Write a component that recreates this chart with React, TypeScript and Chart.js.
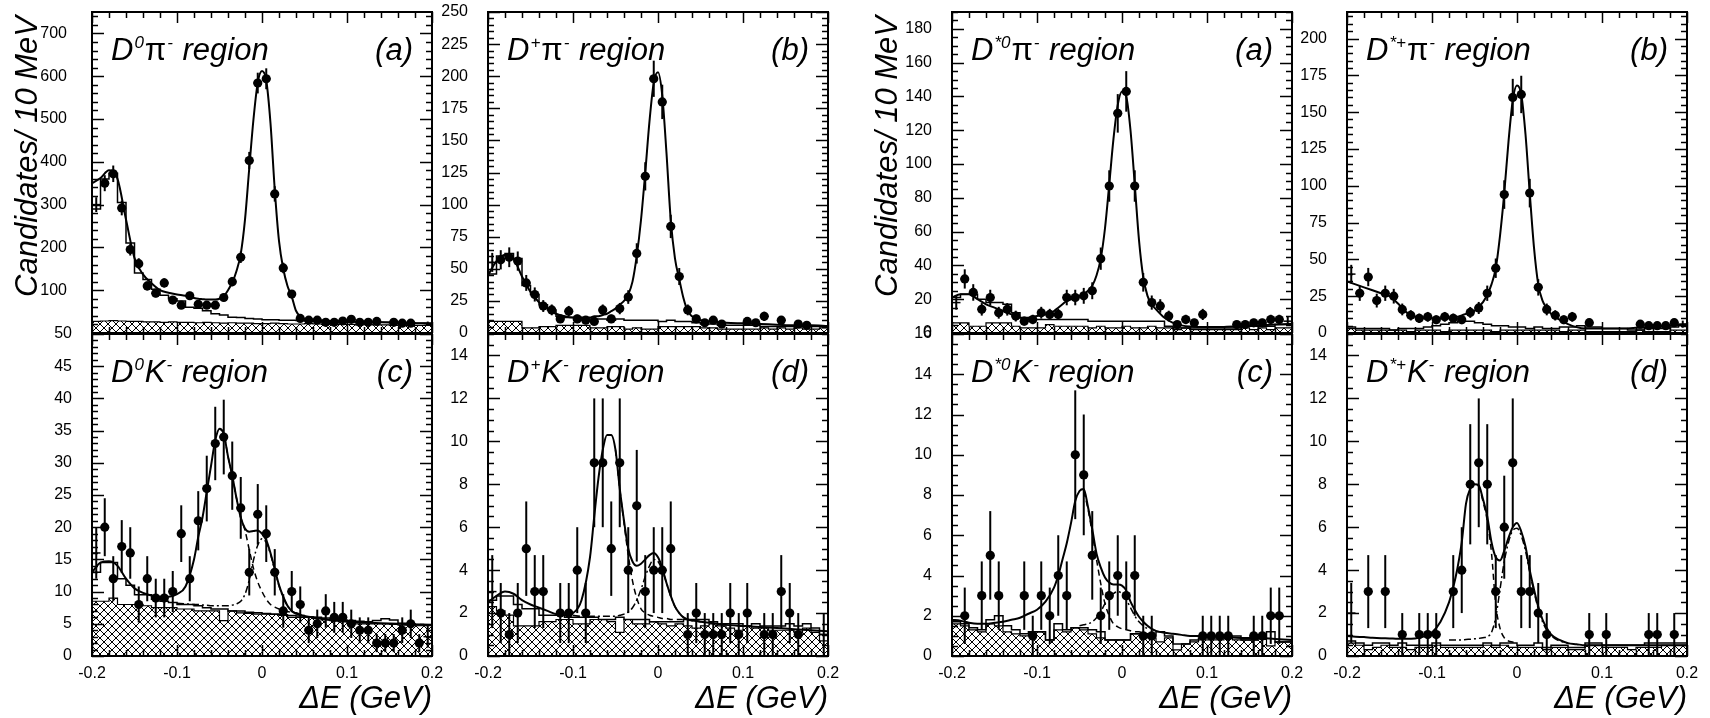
import React, { useEffect, useRef } from "react";
import { Chart, registerables } from "chart.js";

Chart.register(...registerables);

const FONT = '"Liberation Sans", Arial, Helvetica, sans-serif';

// ---------------- shared binning ----------------
const binCenters = [-0.195, -0.185, -0.175, -0.165, -0.155, -0.145, -0.135, -0.125, -0.115, -0.105, -0.095, -0.085, -0.075, -0.065, -0.055, -0.045, -0.035, -0.025, -0.015, -0.005, 0.005, 0.015, 0.025, 0.035, 0.045, 0.055, 0.065, 0.075, 0.085, 0.095, 0.105, 0.115, 0.125, 0.135, 0.145, 0.155, 0.165, 0.175, 0.185, 0.195];
const binEdges = [-0.2, -0.19, -0.18, -0.17, -0.16, -0.15, -0.14, -0.13, -0.12, -0.11, -0.1, -0.09, -0.08, -0.07, -0.06, -0.05, -0.04, -0.03, -0.02, -0.01, 0, 0.01, 0.02, 0.03, 0.04, 0.05, 0.06, 0.07, 0.08, 0.09, 0.1, 0.11, 0.12, 0.13, 0.14, 0.15, 0.16, 0.17, 0.18, 0.19, 0.2];
const fitX = [-0.2, -0.19, -0.18, -0.17, -0.16, -0.15, -0.14, -0.13, -0.12, -0.11, -0.1, -0.09, -0.08, -0.075, -0.07, -0.065, -0.06, -0.055, -0.05, -0.045, -0.04, -0.035, -0.03, -0.025, -0.02, -0.015, -0.01, -0.005, 0, 0.005, 0.01, 0.015, 0.02, 0.025, 0.03, 0.035, 0.04, 0.05, 0.06, 0.07, 0.08, 0.1, 0.12, 0.14, 0.16, 0.18, 0.2];
const xTickLabels = ["-0.2", "-0.1", "0", "0.1", "0.2"];
const yTitleText = "Candidates/ 10 MeV";
const xTitleText = "ΔE (GeV)";

// ---------------- (a) D0 pi- region ----------------
const d0piValues = [300, 350, 372, 292, 195, 162, 110, 93, 117, 77, 65, 87, 67, 65, 65, 83, 120, 177, 403, 584, 594, 325, 152, 91, 34, 30, 30, 25, 25, 28, 32, 25, 25, 27, null, 25, 23, 23, null, 22];
const d0piErrors = [17.3, 18.7, 19.3, 17.1, 14, 12.7, 10.5, 9.6, 10.8, 8.8, 8.1, 9.3, 8.2, 8.1, 8.1, 9.1, 11, 13.3, 20.1, 24.2, 24.4, 18, 12.3, 9.5, 5.8, 5.5, 5.5, 5, 5, 5.3, 5.7, 5, 5, 5.2, null, 5, 4.8, 4.8, null, 4.7];
const d0piHist = [290, 360, 373, 305, 210, 140, 125, 102, 88, 80, 75, 60, 58, 52, 45, 42, 37, 36, 34, 33, 31, 31, 30, 30, 29, 28, 28, 27, 27, 26, 26, 26, 25, 25, 25, 24, 24, 24, 23, 23];
const d0piHatch = [27, 28, 29, 28, 27, 27, 26, 26, 25, 26, 25, 25, 24, 25, 24, 23, 24, 23, 23, 22, 22, 23, 22, 21, 21, 22, 21, 20, 21, 20, 20, 19, 20, 19, 19, 18, 19, 18, 18, 18];
const d0piFit = [350, 362, 380, 360, 265, 175, 137, 116, 100, 94, 90, 87, 82, 80, 79, 78, 78, 78, 80, 86, 100, 118, 145, 185, 265, 385, 500, 585, 612, 590, 490, 335, 215, 150, 110, 85, 52, 33, 30, 29, 28, 27, 26, 25, 24, 23, 22];

// ---------------- (b) D+ pi- region ----------------
const dppiValues = [55, 57, 59, 56, 39, 30, 21, 18, 11, 17, 11, 10, 9, 18, 11, 19, 28, 62, 122, 198, 180, 83, 44, 18, 11, 8, 10, 7, null, null, 9, 8, 13, null, 10, null, 7, 6, null, null];
const dppiErrors = [7.4, 7.5, 7.7, 7.5, 6.2, 5.5, 4.6, 4.2, 3.3, 4.1, 3.3, 3.2, 3, 4.2, 3.3, 4.4, 5.3, 7.9, 11, 14.1, 13.4, 9.1, 6.6, 4.2, 3.3, 2.8, 3.2, 2.6, null, null, 3, 2.8, 3.6, null, 3.2, null, 2.6, 2.4, null, null];
const dppiHist = [46, 60, 62, 58, 37, 30, 22, 18, 13, 12, 12, 11, 11, 11, 10, 11, 10, 10, 10, 10, 9, 10, 9, 9, 8, 7, 7, 6, 6, 6, 6, 6, 5, 5, 5, 5, 5, 5, 5, 5];
const dppiHatch = [9, 9, 9, 9, 4, 4, 5, 5, 6, 6, 6, 6, 4, 4, 5, 5, 3, 4, 3, 3, 5, 5, 5, 5, 5, 4, 4, 3, 3, 3, 3, 3, 4, 3, 4, 3, 4, 3, 3, 4];
const dppiFit = [45, 56, 61, 58, 44, 32, 24, 19, 15, 13, 12, 12, 12, 13, 13, 14, 15, 17, 19, 22, 25, 30, 40, 60, 88, 125, 165, 195, 203, 185, 140, 88, 58, 42, 27, 17, 13, 10, 9, 8.5, 8, 7.5, 7, 6.5, 6, 6, 5.5];

// ---------------- (a) D*0 pi- region ----------------
const ds0piValues = [18, 32, 24, 14, 21, 12, 14, 10, 7, 8, 12, 11, 11, 21, 21, 22, 25, 44, 87, 130, 143, 87, 30, 18, 16, 10, 5, 8, 6, 11, null, null, null, 5, 5, 6, 6, 8, 8, 7];
const ds0piErrors = [4.2, 5.7, 4.9, 3.7, 4.6, 3.5, 3.7, 3.2, 2.6, 2.8, 3.5, 3.3, 3.3, 4.6, 4.6, 4.7, 5, 6.6, 9.3, 11.4, 12, 9.3, 5.5, 4.2, 4, 3.2, 2.2, 2.8, 2.4, 3.3, null, null, null, 2.2, 2.2, 2.4, 2.4, 2.8, 2.8, 2.6];
const ds0piHist = [21, 23, 23, 20, 18, 18, 17, 12, 9, 8, 8, 8, 8, 8, 8, 8, 7, 7, 7, 7, 7, 7, 7, 7, 7, 4, 3, 3, 3, 3, 3, 3, 3, 3, 4, 4, 4, 4, 5, 5];
const ds0piHatch = [6, 6, 4, 4, 6, 6, 6, 4, 3, 3, 3, 5, 4, 4, 4, 4, 3, 4, 3, 3, 4, 3, 3, 4, 3, 3, 2, 3, 2, 2, 2, 2, 2, 2, 3, 2, 3, 2, 3, 3];
const ds0piFit = [21, 23, 23, 20, 17, 15, 13, 11, 9, 9, 10, 11, 13, 15, 17, 19, 20, 21, 22, 23, 25, 28, 34, 44, 62, 88, 115, 135, 143, 140, 120, 88, 55, 33, 22, 17, 14, 9, 6, 4.5, 3.8, 3.5, 3.6, 4, 4.5, 5, 5.5];

// ---------------- (b) D*+ pi- region ----------------
const dspiValues = [40, 27, 38, 22, 27, 25, 16, 12, 10, 11, 9, 11, 10, 9, 14, 17, 27, 44, 94, 160, 162, 95, 31, 16, 12, 9, 11, null, 7, null, null, null, null, null, 6, 5, 5, 5, 7, 6];
const dspiErrors = [6.3, 5.2, 6.2, 4.7, 5.2, 5, 4, 3.5, 3.2, 3.3, 3, 3.3, 3.2, 3, 3.7, 4.1, 5.2, 6.6, 9.7, 12.6, 12.7, 9.7, 5.6, 4, 3.5, 3, 3.3, null, 2.6, null, null, null, null, null, 2.4, 2.2, 2.2, 2.2, 2.6, 2.4];
const dspiHist = [4, 3, 3, 3, 3, 2, 3, 3, 3, 4, 5, 6, 7, 8, 8, 7, 6, 5, 5, 4, 4, 3, 4, 3, 3, 4, 4, 5, 4, 4, 3, 3, 3, 2, 2, 3, 3, 3, 4, 5];
const dspiHatch = [3, 2, 2, 2, 2, 2, 2, 1, 2, 2, 2, 1, 2, 2, 2, 2, 2, 1, 2, 2, 2, 2, 2, 2, 2, 1, 2, 2, 1, 1, 1, 1, 1, 1, 2, 1, 1, 1, 2, 2];
const dspiFit = [35, 33, 31, 29, 27, 25, 20, 14, 11, 10, 10, 10, 10, 11, 11, 12, 13, 14, 15, 18, 21, 26, 33, 44, 66, 95, 130, 158, 168, 162, 135, 95, 58, 33, 22, 17, 13, 9, 6, 4, 3, 3, 3, 3.5, 4, 5, 6];

// ---------------- (c) D0 K region ----------------
const d0kValues = [16, 20, 12, 17, 16, 8, 12, 9, 9, 10, 19, 12, 21, 26, 33, 34, 28, 23, 13, 22, 19, 13, 7, 10, 8, 4, 5, 7, 6, 6, 5, 4, 4, 2, 2, 2, 4, 5, 2, 3];
const d0kErrors = [4, 4.5, 3.5, 4.1, 4, 2.8, 3.5, 3, 3, 3.2, 4.4, 3.5, 4.6, 5.1, 5.7, 5.8, 5.3, 4.8, 3.6, 4.7, 4.4, 3.6, 2.6, 3.2, 2.8, 2, 2.2, 2.6, 2.4, 2.4, 2.2, 2, 2, 1.4, 1.4, 1.4, 2, 2.2, 1.4, 1.7];
const d0kHist = [13, 14.5, 14.5, 12, 11, 9.5, 9.5, 8.8, 8.5, 8.3, 8, 8, 7.8, 7.5, 7.3, 7.3, 7, 7, 6.8, 6.7, 6.6, 6.5, 6.4, 6.3, 6.2, 6.1, 6, 5.9, 5.8, 5.6, 5.5, 5.4, 5.3, 5.5, 5.8, 5.6, 5.1, 5, 4.9, 4.8];
const d0kHatch = [8.5, 8.5, 9, 8, 8, 8, 7.8, 7.5, 7.5, 7.5, 7.3, 7.3, 7, 7, 7, 5.5, 7, 6.7, 6.6, 6.5, 6.5, 6.5, 6.3, 6, 6, 6, 5.8, 5.6, 5.5, 5.3, 5.2, 5, 5, 5, 5, 4.9, 4.8, 4.8, 4.7, 4.7];
const d0kFit = [13, 14.5, 14.7, 14, 12, 10.5, 9.8, 9.4, 9.2, 9.2, 9.6, 10.8, 15, 18.5, 21.5, 25.5, 29.5, 33.5, 35.3, 34.5, 31, 28, 24.5, 21.5, 19.8, 19.3, 19.4, 19.5, 19, 18, 16, 13.5, 11, 9.2, 7.8, 7, 6.6, 6.2, 6, 5.8, 5.6, 5.4, 5.2, 5.1, 5, 4.9, 4.8];
const d0kDashStart = 18;
const d0kDash = [35.3, 34.5, 31, 28, 24.5, 21.5, 19.5, 16.5, 13.6, 11.5, 10, 8.8, 8, 7.6, 7.3, 7.1, 6.9, 6.8, 6.7, 6.3];
const d0kDashDotStart = 10;
const d0kDashDot = [8.2, 8.1, 8, 8, 7.9, 7.9, 7.8, 7.8, 7.8, 7.8, 7.8, 7.9, 8.1, 8.5, 9.6, 11.8, 14.9, 17.2, 18.2, 17.6, 15.8, 13.3, 10.9, 9.1, 7.8, 7, 6.6, 6.2];

// ---------------- (d) D+ K region ----------------
const dpkValues = [3, 2, 1, 2, 5, 3, 3, null, 2, 2, 4, 2, 9, 9, 5, 9, 4, 7, 3, 4, 4, 5, null, 1, 2, 1, 1, 1, 2, 1, 2, null, 1, 1, 3, 2, 1, null, null, 1];
const dpkErrors = [1.7, 1.4, 1, 1.4, 2.2, 1.7, 1.7, null, 1.4, 1.4, 2, 1.4, 3, 3, 2.2, 3, 2, 2.6, 1.7, 2, 2, 2.2, null, 1, 1.4, 1, 1, 1, 1.4, 1, 1.4, null, 1, 1, 1.7, 1.4, 1, null, null, 1];
const dpkHist = [2.6, 2.8, 2.8, 2.4, 2.2, 2.2, 1.9, 1.9, 1.9, 1.8, 1.8, 1.8, 1.8, 1.7, 1.7, 1.8, 1.7, 1.7, 1.7, 1.6, 1.6, 1.6, 1.6, 1.7, 1.7, 1.7, 1.6, 1.5, 1.5, 1.5, 1.4, 1.5, 1.4, 1.4, 1.4, 1.5, 1.4, 1.5, 1.3, 1.0];
const dpkHatch = [2.3, 2.1, 1.9, 1.4, 1.4, 1.4, 1.6, 1.6, 1.7, 1.7, 1.5, 1.5, 1.7, 1.7, 1.6, 1.1, 1.7, 1.5, 1.5, 1.6, 1.5, 1.4, 1.5, 1.4, 1.3, 1.4, 1.5, 1.4, 1.3, 1.2, 1.4, 1.3, 1.3, 1.2, 1.2, 1.2, 1.1, 1.3, 1.1, 0.7];
const dpkFit = [2.5, 2.8, 3, 2.9, 2.6, 2.4, 2.25, 2.1, 1.95, 1.9, 2, 2.6, 4.6, 6.5, 8.3, 9.6, 10.3, 10.3, 9.6, 7.8, 6.3, 5, 4.4, 4.2, 4.3, 4.5, 4.7, 4.8, 4.6, 4.1, 3.4, 2.8, 2.3, 2, 1.8, 1.7, 1.65, 1.6, 1.55, 1.5, 1.45, 1.4, 1.35, 1.3, 1.25, 1.2, 1.15];
const dpkDashStart = 18;
const dpkDash = [9.6, 7.8, 6.2, 4.7, 3.5, 2.7, 2.2, 2, 1.9, 1.85, 1.8, 1.75, 1.75, 1.7, 1.7, 1.7, 1.7, 1.7, 1.65, 1.6];
const dpkDashDotStart = 10;
const dpkDashDot = [1.9, 1.85, 1.85, 1.85, 1.85, 1.85, 1.85, 1.85, 1.85, 1.9, 1.95, 2.05, 2.25, 2.6, 3.1, 3.7, 4.2, 4.5, 4.4, 4, 3.4, 2.8, 2.3, 2, 1.8, 1.7, 1.65, 1.6];

// ---------------- (c) D*0 K region ----------------
const ds0kValues = [null, 2, null, 3, 5, 3, null, null, 3, 1, 3, 2, 4, 3, 10, 9, 5, 2, 3, 4, 3, 4, 1, 1, null, null, null, null, null, 1, 1, 1, 1, null, null, 1, 1, 2, 2, null];
const ds0kErrors = [null, 1.4, null, 1.7, 2.2, 1.7, null, null, 1.7, 1, 1.7, 1.4, 2, 1.7, 3.2, 3, 2.2, 1.4, 1.7, 2, 1.7, 2, 1, 1, null, null, null, null, null, 1, 1, 1, 1, null, null, 1, 1, 1.4, 1.4, null];
const ds0kHist = [1.7, 1.6, 1.4, 1.3, 1.8, 2, 1.5, 1.3, 1.1, 1.2, 1.2, 0.8, 1.6, 1.3, 1.4, 1.4, 1.3, 1.2, 0.8, 0.8, 0.8, 1.1, 1.1, 1, 1.2, 1, 0.6, 0.6, 0.8, 0.9, 0.9, 0.9, 1, 1, 0.8, 0.8, 0.9, 1.2, 0.7, 0.7];
const ds0kHatch = [1.6, 1.5, 1.3, 1.2, 1.6, 1.5, 1.2, 1.1, 1.0, 1.2, 1.2, 0.8, 1.3, 1.2, 1.4, 1.3, 1.1, 0.9, 0.8, 0.8, 0.8, 1.1, 1.1, 0.9, 0.7, 0.9, 0.3, 0.6, 0.7, 0.8, 0.8, 0.8, 0.9, 0.8, 0.8, 0.8, 0.9, 0.5, 0.7, 0.7];
const ds0kFit = [1.8, 1.75, 1.65, 1.6, 1.6, 1.65, 1.7, 1.8, 1.9, 2.1, 2.3, 2.7, 3.4, 4, 4.8, 5.6, 6.6, 7.7, 8.2, 8.3, 7.4, 6.3, 5.1, 4.4, 3.9, 3.65, 3.55, 3.55, 3.5, 3.25, 2.7, 2.3, 1.95, 1.7, 1.5, 1.35, 1.25, 1.15, 1.1, 1.05, 1, 1, 0.95, 0.9, 0.9, 0.85, 0.8];
const ds0kDashStart = 19;
const ds0kDash = [8.2, 7.3, 6.1, 4.8, 3.6, 2.6, 2, 1.6, 1.45, 1.35, 1.3, 1.25, 1.2, 1.2, 1.15, 1.1];
const ds0kDashDotStart = 18;
const ds0kDashDot = [1.5, 1.55, 1.6, 1.7, 1.9, 2.2, 2.6, 2.9, 3.1, 3.2, 3.1, 2.8, 2.4, 2.0, 1.7, 1.5, 1.35];

// ---------------- (d) D*+ K region ----------------
const dskValues = [2, null, 3, null, 3, null, 1, null, 1, 1, 1, null, 3, 4, 8, 9, 8, 3, 6, 9, 3, 3, 2, 1, null, null, null, null, 1, null, 1, null, null, null, null, 1, 1, null, 1, null];
const dskErrors = [1.4, null, 1.7, null, 1.7, null, 1, null, 1, 1, 1, null, 1.7, 2, 2.8, 3, 2.8, 1.7, 2.4, 3, 1.7, 1.7, 1.4, 1, null, null, null, null, 1, null, 1, null, null, null, null, 1, 1, null, 1, null];
const dskHist = [0.7, 0.6, 0.5, 0.6, 0.6, 0.5, 0.6, 0.5, 0.5, 0.5, 0.6, 0.5, 0.5, 0.5, 0.5, 0.5, 0.6, 0.5, 0.6, 0.6, 0.5, 0.5, 0.6, 0.4, 0.5, 0.5, 0.4, 0.4, 0.6, 0.6, 0.5, 0.5, 0.5, 0.5, 0.5, 0.6, 0.6, 0.6, 0.6, 0.6];
const dskHatch = [0.6, 0.5, 0.3, 0.4, 0.5, 0.4, 0.4, 0.3, 0.4, 0.4, 0.5, 0.4, 0.4, 0.4, 0.4, 0.4, 0.5, 0.4, 0.5, 0.4, 0.4, 0.4, 0.4, 0.3, 0.4, 0.4, 0.3, 0.3, 0.5, 0.5, 0.4, 0.4, 0.4, 0.3, 0.4, 0.4, 0.4, 0.5, 0.5, 0.5];
const dskFit = [0.93, 0.9, 0.88, 0.85, 0.83, 0.82, 0.8, 0.8, 0.82, 0.9, 1.1, 1.6, 2.5, 3.2, 4.1, 5.3, 7.1, 7.8, 8, 7.95, 7.3, 6.5, 5.3, 4.6, 4.45, 4.9, 5.5, 6, 6.2, 5.8, 5.1, 4, 3.1, 2.3, 1.7, 1.3, 1.0, 0.75, 0.6, 0.55, 0.5, 0.5, 0.5, 0.5, 0.5, 0.5, 0.5];
const dskDashStart = 17;
const dskDash = [7.8, 8, 7.9, 7.2, 6.3, 4.8, 2.4, 1.3, 0.85, 0.7, 0.65, 0.6];
const dskDashDotStart = 12;
const dskDashDot = [0.75, 0.75, 0.75, 0.75, 0.77, 0.78, 0.8, 0.82, 0.85, 0.9, 1.1, 1.8, 3.1, 4.4, 5.3, 5.85, 5.95, 5.6, 4.9, 3.9, 3, 2.2, 1.6, 1.2, 0.95, 0.7, 0.6];

// ---------------- layout (pixels) ----------------
const AXIS_W = 92;
const BOX_W = 340;
const RIGHT_PAD = 22;

type Part = { t: string; k: "i" | "u" | "s" };
type Num = number | null;
interface PanelDef {
  key: string;
  boxLeft: number;
  row: 0 | 1;
  yMax: number;
  yStep: number;
  ySub: number;
  labelPad: number;
  yTitle: boolean;
  hideZero: boolean;
  values: Num[];
  errors: Num[];
  hist: number[];
  hatch: number[];
  fit: number[];
  dash?: number[];
  dashStart?: number;
  dashDot?: number[];
  dashDotStart?: number;
  label: Part[];
  tag: string;
}

const P = (t: string, k: "i" | "u" | "s"): Part => ({ t, k });

const panels: PanelDef[] = [
  { key: "a1", boxLeft: 92, row: 0, yMax: 750, yStep: 100, ySub: 5, labelPad: 25, yTitle: true, hideZero: true,
    values: d0piValues, errors: d0piErrors, hist: d0piHist, hatch: d0piHatch, fit: d0piFit,
    label: [P("D", "i"), P("0", "s"), P("π", "u"), P("-", "s"), P(" region", "i")], tag: "(a)" },
  { key: "b1", boxLeft: 488, row: 0, yMax: 250, yStep: 25, ySub: 5, labelPad: 20, yTitle: false, hideZero: false,
    values: dppiValues, errors: dppiErrors, hist: dppiHist, hatch: dppiHatch, fit: dppiFit,
    label: [P("D", "i"), P("+", "s"), P("π", "u"), P("-", "s"), P(" region", "i")], tag: "(b)" },
  { key: "c1", boxLeft: 92, row: 1, yMax: 50, yStep: 5, ySub: 5, labelPad: 20, yTitle: false, hideZero: false,
    values: d0kValues, errors: d0kErrors, hist: d0kHist, hatch: d0kHatch, fit: d0kFit,
    dash: d0kDash, dashStart: d0kDashStart, dashDot: d0kDashDot, dashDotStart: d0kDashDotStart,
    label: [P("D", "i"), P("0", "s"), P("K", "i"), P("-", "s"), P(" region", "i")], tag: "(c)" },
  { key: "d1", boxLeft: 488, row: 1, yMax: 15, yStep: 2, ySub: 4, labelPad: 20, yTitle: false, hideZero: false,
    values: dpkValues, errors: dpkErrors, hist: dpkHist, hatch: dpkHatch, fit: dpkFit,
    dash: dpkDash, dashStart: dpkDashStart, dashDot: dpkDashDot, dashDotStart: dpkDashDotStart,
    label: [P("D", "i"), P("+", "s"), P("K", "i"), P("-", "s"), P(" region", "i")], tag: "(d)" },
  { key: "a2", boxLeft: 952, row: 0, yMax: 190, yStep: 20, ySub: 4, labelPad: 20, yTitle: true, hideZero: false,
    values: ds0piValues, errors: ds0piErrors, hist: ds0piHist, hatch: ds0piHatch, fit: ds0piFit,
    label: [P("D", "i"), P("*0", "s"), P("π", "u"), P("-", "s"), P(" region", "i")], tag: "(a)" },
  { key: "b2", boxLeft: 1347, row: 0, yMax: 218, yStep: 25, ySub: 5, labelPad: 20, yTitle: false, hideZero: false,
    values: dspiValues, errors: dspiErrors, hist: dspiHist, hatch: dspiHatch, fit: dspiFit,
    label: [P("D", "i"), P("*+", "s"), P("π", "u"), P("-", "s"), P(" region", "i")], tag: "(b)" },
  { key: "c2", boxLeft: 952, row: 1, yMax: 16, yStep: 2, ySub: 4, labelPad: 20, yTitle: false, hideZero: false,
    values: ds0kValues, errors: ds0kErrors, hist: ds0kHist, hatch: ds0kHatch, fit: ds0kFit,
    dash: ds0kDash, dashStart: ds0kDashStart, dashDot: ds0kDashDot, dashDotStart: ds0kDashDotStart,
    label: [P("D", "i"), P("*0", "s"), P("K", "i"), P("-", "s"), P(" region", "i")], tag: "(c)" },
  { key: "d2", boxLeft: 1347, row: 1, yMax: 15, yStep: 2, ySub: 4, labelPad: 20, yTitle: false, hideZero: false,
    values: dskValues, errors: dskErrors, hist: dskHist, hatch: dskHatch, fit: dskFit,
    dash: dskDash, dashStart: dskDashStart, dashDot: dskDashDot, dashDotStart: dskDashDotStart,
    label: [P("D", "i"), P("*+", "s"), P("K", "i"), P("-", "s"), P(" region", "i")], tag: "(d)" },
];

function makeHatch(): CanvasPattern | string {
  const c = document.createElement("canvas");
  c.width = 8;
  c.height = 8;
  const g = c.getContext("2d");
  if (!g) return "rgba(0,0,0,0.4)";
  g.strokeStyle = "#000";
  g.lineWidth = 1;
  g.beginPath();
  g.moveTo(-1, -1);
  g.lineTo(9, 9);
  g.moveTo(9, -1);
  g.lineTo(-1, 9);
  g.stroke();
  return g.createPattern(c, "repeat") || "rgba(0,0,0,0.4)";
}

function rootPlugin(p: PanelDef) {
  return {
    id: "rootFrame_" + p.key,
    afterDatasetsDraw(chart: any) {
      const ctx: CanvasRenderingContext2D = chart.ctx;
      const a = chart.chartArea;
      const xs = chart.scales.x;
      const ys = chart.scales.y;
      ctx.save();
      // error bars (vertical: statistical error, horizontal: bin width)
      ctx.beginPath();
      ctx.rect(a.left, a.top, a.right - a.left, a.bottom - a.top);
      ctx.clip();
      ctx.strokeStyle = "#000";
      p.values.forEach((v, i) => {
        if (v == null) return;
        const e = p.errors[i] ?? 0;
        const x = xs.getPixelForValue(binCenters[i]);
        const y = ys.getPixelForValue(v);
        ctx.lineWidth = 2;
        ctx.beginPath();
        ctx.moveTo(x, ys.getPixelForValue(v - e));
        ctx.lineTo(x, ys.getPixelForValue(v + e));
        ctx.stroke();
        ctx.lineWidth = 1.5;
        ctx.beginPath();
        ctx.moveTo(xs.getPixelForValue(binEdges[i]), y);
        ctx.lineTo(xs.getPixelForValue(binEdges[i + 1]), y);
        ctx.stroke();
      });
      ctx.restore();

      // frame and inner ticks
      ctx.save();
      ctx.strokeStyle = "#000";
      ctx.lineWidth = 2;
      ctx.strokeRect(a.left, a.top, a.right - a.left, a.bottom - a.top);
      ctx.lineWidth = 1.5;
      const seg = (x1: number, y1: number, x2: number, y2: number) => {
        ctx.beginPath();
        ctx.moveTo(x1, y1);
        ctx.lineTo(x2, y2);
        ctx.stroke();
      };
      const minor = p.yStep / p.ySub;
      const n = Math.floor(p.yMax / minor + 1e-6);
      for (let i = 0; i <= n; i++) {
        const y = Math.round(ys.getPixelForValue(i * minor)) + 0.5;
        const len = i % p.ySub === 0 ? 12 : 6;
        seg(a.left, y, a.left + len, y);
        seg(a.right, y, a.right - len, y);
      }
      for (let i = 0; i <= 20; i++) {
        const x = Math.round(xs.getPixelForValue(-0.2 + i * 0.02)) + 0.5;
        const len = i % 5 === 0 ? 11 : 6;
        seg(x, a.bottom, x, a.bottom - len);
        seg(x, a.top, x, a.top + len);
      }

      // panel label
      ctx.fillStyle = "#000";
      ctx.textBaseline = "alphabetic";
      ctx.textAlign = "left";
      let x = a.left + 19;
      const base = a.top + 48;
      for (const part of p.label) {
        if (part.k === "s") {
          ctx.font = `italic 17px ${FONT}`;
          ctx.fillText(part.t, x + 1, base - 12);
          x += ctx.measureText(part.t).width + 2;
        } else if (part.k === "u") {
          ctx.font = `31px ${FONT}`;
          ctx.fillText(part.t, x, base);
          x += ctx.measureText(part.t).width;
        } else {
          ctx.font = `italic 31px ${FONT}`;
          ctx.fillText(part.t, x, base);
          x += ctx.measureText(part.t).width;
        }
      }
      ctx.font = `italic 31px ${FONT}`;
      ctx.textAlign = "right";
      ctx.fillText(p.tag, a.right - 19, base);

      // y axis title (rotated, top-aligned like ROOT)
      if (p.yTitle) {
        ctx.save();
        ctx.translate(a.left - 55, a.top + 4);
        ctx.rotate(-Math.PI / 2);
        ctx.font = `italic 31px ${FONT}`;
        ctx.textAlign = "right";
        ctx.textBaseline = "alphabetic";
        ctx.fillText(yTitleText, 0, 0);
        ctx.restore();
      }
      ctx.restore();
    },
  };
}

function PanelChart({ p }: { p: PanelDef }) {
  const ref = useRef<HTMLCanvasElement | null>(null);
  const isBottom = p.row === 1;
  const cLeft = p.boxLeft - AXIS_W;
  const cTop = isBottom ? 322 : 0;
  const w = AXIS_W + BOX_W + RIGHT_PAD;
  const h = isBottom ? 396 : 345;

  useEffect(() => {
    if (!ref.current) return;
    const pattern = makeHatch();
    const lastIdx = p.hist.length - 1;
    const datasets: any[] = [
      {
        label: "hatched",
        data: binEdges.map((x, i) => ({ x, y: p.hatch[Math.min(i, lastIdx)] })),
        stepped: "before",
        fill: "origin",
        backgroundColor: pattern,
        borderColor: "#000",
        borderWidth: 1.2,
        pointRadius: 0,
        order: 6,
      },
      {
        label: "hist",
        data: binEdges.map((x, i) => ({ x, y: p.hist[Math.min(i, lastIdx)] })),
        stepped: "before",
        fill: false,
        borderColor: "#000",
        borderWidth: 1.5,
        pointRadius: 0,
        order: 5,
      },
    ];
    if (p.dashDot && p.dashDotStart != null) {
      const s = p.dashDotStart;
      datasets.push({
        label: "dashdot",
        data: p.dashDot.map((y, i) => ({ x: fitX[s + i], y })),
        borderColor: "#000",
        borderWidth: 1.5,
        borderDash: [7, 3, 2, 3],
        cubicInterpolationMode: "monotone",
        pointRadius: 0,
        fill: false,
        order: 4,
      });
    }
    if (p.dash && p.dashStart != null) {
      const s = p.dashStart;
      datasets.push({
        label: "dash",
        data: p.dash.map((y, i) => ({ x: fitX[s + i], y })),
        borderColor: "#000",
        borderWidth: 1.5,
        borderDash: [6, 4],
        cubicInterpolationMode: "monotone",
        pointRadius: 0,
        fill: false,
        order: 3,
      });
    }
    datasets.push({
      label: "fit",
      data: fitX.map((x, i) => ({ x, y: p.fit[i] })),
      borderColor: "#000",
      borderWidth: 2,
      cubicInterpolationMode: "monotone",
      pointRadius: 0,
      fill: false,
      order: 2,
    });
    datasets.push({
      label: "data",
      data: binCenters.map((x, i) => ({ x, y: p.values[i] })),
      showLine: false,
      pointRadius: (c: any) => (c.dataIndex === 0 || c.dataIndex === binCenters.length - 1 ? 0 : 4.6),
      pointHoverRadius: 4.6,
      pointBackgroundColor: "#000",
      pointBorderColor: "#000",
      pointBorderWidth: 0,
      order: 1,
    });

    const chart = new Chart(ref.current, {
      type: "line",
      data: { datasets },
      options: {
        responsive: false,
        animation: false,
        events: [],
        layout: { padding: { left: 0, right: RIGHT_PAD, top: 12, bottom: isBottom ? 0 : 12 } },
        plugins: { legend: { display: false }, tooltip: { enabled: false }, title: { display: false } },
        scales: {
          x: {
            type: "linear",
            min: -0.2,
            max: 0.2,
            display: isBottom,
            position: "bottom",
            grid: { display: true, drawOnChartArea: false, drawTicks: true, tickLength: 8, color: "rgba(0,0,0,0)" },
            border: { display: false },
            ticks: {
              stepSize: 0.1,
              autoSkip: false,
              maxRotation: 0,
              includeBounds: false,
              padding: 0,
              color: "#000",
              font: { family: FONT, size: 16 },
              callback: (_v: any, i: number) => xTickLabels[i] ?? "",
            },
            title: {
              display: true,
              text: xTitleText,
              align: "end",
              color: "#000",
              padding: { top: 0, bottom: 0 },
              font: { family: FONT, size: 31, style: "italic" },
            },
            ...(isBottom ? { afterFit: (s: any) => { s.height = 62; } } : {}),
          },
          y: {
            type: "linear",
            min: 0,
            max: p.yMax,
            grid: { display: true, drawOnChartArea: false, drawTicks: true, tickLength: p.labelPad, color: "rgba(0,0,0,0)" },
            border: { display: false },
            ticks: {
              stepSize: p.yStep,
              autoSkip: false,
              includeBounds: false,
              padding: 0,
              color: "#000",
              font: { family: FONT, size: 16 },
              callback: (v: any) => (p.hideZero && Number(v) === 0 ? "" : String(v)),
            },
            title: { display: false },
            afterFit: (s: any) => { s.width = AXIS_W; },
          },
        },
      } as any,
      plugins: [rootPlugin(p)],
    });
    return () => chart.destroy();
  }, []);

  return (
    <canvas
      ref={ref}
      width={w}
      height={h}
      style={{ position: "absolute", left: cLeft, top: cTop, width: w, height: h, display: "block" }}
    />
  );
}

export default function App() {
  return (
    <div>
      {panels.map((p) => (
        <PanelChart key={p.key} p={p} />
      ))}
    </div>
  );
}
